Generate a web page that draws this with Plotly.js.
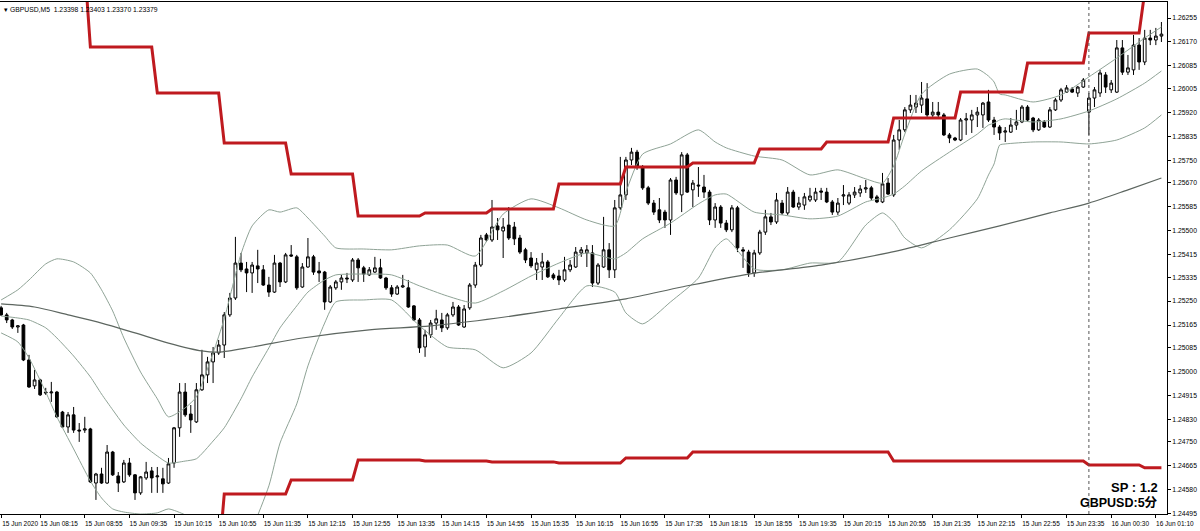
<!DOCTYPE html>
<html><head><meta charset="utf-8">
<script src="https://cdn.plot.ly/plotly-3.0.1.min.js"></script>
<style>html,body{margin:0;padding:0;background:#fff}#chart{width:1200px;height:531px}</style>
</head><body><div id="chart"></div>
<script>
// ---- Candle data (GBPUSD M5), bar index 0..208 ----
const openP=[1.25226,1.25201,1.25183,1.25158,1.25165,1.25041,1.24949,1.24970,1.24927,1.24924,
1.24927,1.24856,1.24803,1.24846,1.24792,1.24792,1.24796,1.24604,1.24636,1.24604,
1.24714,1.24629,1.24608,1.24675,1.24633,1.24569,1.24622,1.24647,1.24626,1.24619,
1.24604,1.24675,1.24800,1.24927,1.24849,1.24821,1.24935,1.24988,1.25034,1.25066,
1.25094,1.25201,1.25261,1.25385,1.25364,1.25350,1.25375,1.25361,1.25307,1.25282,
1.25385,1.25318,1.25414,1.25407,1.25300,1.25371,1.25407,1.25357,1.25353,1.25247,
1.25297,1.25318,1.25332,1.25325,1.25396,1.25368,1.25343,1.25353,1.25368,1.25332,
1.25297,1.25275,1.25300,1.25297,1.25233,1.25183,1.25087,1.25130,1.25172,1.25183,
1.25155,1.25201,1.25229,1.25158,1.25226,1.25307,1.25378,1.25485,1.25467,1.25517,
1.25499,1.25520,1.25513,1.25474,1.25432,1.25403,1.25361,1.25371,1.25389,1.25343,
1.25339,1.25325,1.25361,1.25371,1.25421,1.25421,1.25421,1.25314,1.25371,1.25432,
1.25361,1.25581,1.25627,1.25751,1.25779,1.25726,1.25652,1.25598,1.25574,1.25566,
1.25538,1.25680,1.25627,1.25769,1.25645,1.25662,1.25655,1.25637,1.25538,1.25584,
1.25527,1.25503,1.25581,1.25432,1.25424,1.25350,1.25421,1.25495,1.25549,1.25531,
1.25598,1.25563,1.25637,1.25584,1.25591,1.25609,1.25609,1.25641,1.25637,1.25602,
1.25566,1.25623,1.25598,1.25627,1.25634,1.25648,1.25652,1.25620,1.25602,1.25669,
1.25627,1.25822,1.25858,1.25929,1.25939,1.25946,1.25968,1.25911,1.25921,1.25911,
1.25840,1.25829,1.25822,1.25893,1.25893,1.25911,1.25911,1.25957,1.25893,1.25868,
1.25850,1.25850,1.25875,1.25886,1.25939,1.25900,1.25858,1.25886,1.25868,1.25929,
1.25964,1.25992,1.26003,1.25989,1.26010,1.25921,1.25971,1.25989,1.26053,1.26000,
1.25992,1.26149,1.26063,1.26071,1.26159,1.26099,1.26184,1.26177,1.26191];
const highP=[1.25233,1.25208,1.25187,1.25165,1.25169,1.25059,1.25006,1.24974,1.24942,1.24963,
1.24931,1.24860,1.24856,1.24874,1.24817,1.24839,1.24800,1.24640,1.24658,1.24739,
1.24718,1.24643,1.24686,1.24693,1.24636,1.24629,1.24679,1.24661,1.24661,1.24658,
1.24693,1.24803,1.24959,1.24959,1.24881,1.24959,1.25077,1.25052,1.25087,1.25112,
1.25211,1.25279,1.25478,1.25421,1.25389,1.25389,1.25432,1.25378,1.25336,1.25414,
1.25389,1.25421,1.25449,1.25414,1.25385,1.25474,1.25414,1.25389,1.25357,1.25307,
1.25325,1.25343,1.25350,1.25403,1.25403,1.25375,1.25371,1.25407,1.25400,1.25336,
1.25307,1.25307,1.25343,1.25325,1.25236,1.25190,1.25148,1.25183,1.25219,1.25208,
1.25208,1.25247,1.25236,1.25236,1.25314,1.25389,1.25485,1.25492,1.25609,1.25545,
1.25545,1.25584,1.25531,1.25485,1.25439,1.25424,1.25403,1.25421,1.25396,1.25350,
1.25361,1.25407,1.25396,1.25442,1.25442,1.25449,1.25449,1.25385,1.25549,1.25456,
1.25609,1.25762,1.25762,1.25794,1.25787,1.25733,1.25659,1.25609,1.25616,1.25574,
1.25687,1.25691,1.25779,1.25776,1.25680,1.25726,1.25698,1.25645,1.25598,1.25591,
1.25538,1.25591,1.25588,1.25442,1.25432,1.25432,1.25503,1.25574,1.25563,1.25634,
1.25609,1.25655,1.25645,1.25620,1.25634,1.25652,1.25652,1.25652,1.25652,1.25609,
1.25616,1.25662,1.25637,1.25655,1.25662,1.25680,1.25659,1.25627,1.25705,1.25687,
1.25840,1.25893,1.25939,1.25982,1.25982,1.26028,1.26024,1.25957,1.25957,1.25918,
1.25847,1.25833,1.25900,1.25918,1.25929,1.25939,1.25957,1.26000,1.25904,1.25875,
1.25868,1.25900,1.25929,1.25946,1.25946,1.25904,1.25900,1.25893,1.25939,1.25971,
1.26007,1.26017,1.26010,1.26014,1.26042,1.25989,1.26010,1.26071,1.26063,1.26035,
1.26177,1.26177,1.26124,1.26195,1.26184,1.26213,1.26213,1.26220,1.26241];
const lowP=[1.25197,1.25172,1.25151,1.25137,1.25037,1.24942,1.24938,1.24913,1.24917,1.24892,
1.24835,1.24800,1.24782,1.24782,1.24750,1.24782,1.24604,1.24544,1.24601,1.24601,
1.24629,1.24572,1.24604,1.24626,1.24544,1.24562,1.24615,1.24569,1.24569,1.24569,
1.24601,1.24658,1.24768,1.24839,1.24782,1.24817,1.24931,1.24959,1.24959,1.25059,
1.25048,1.25194,1.25254,1.25353,1.25282,1.25279,1.25314,1.25304,1.25265,1.25279,
1.25300,1.25314,1.25407,1.25290,1.25297,1.25368,1.25343,1.25318,1.25219,1.25243,
1.25290,1.25290,1.25314,1.25318,1.25318,1.25318,1.25339,1.25350,1.25329,1.25290,
1.25265,1.25272,1.25297,1.25226,1.25179,1.25066,1.25052,1.25119,1.25148,1.25140,
1.25148,1.25194,1.25162,1.25155,1.25219,1.25297,1.25371,1.25460,1.25460,1.25467,
1.25403,1.25467,1.25449,1.25417,1.25385,1.25368,1.25325,1.25325,1.25332,1.25325,
1.25307,1.25318,1.25353,1.25368,1.25407,1.25371,1.25300,1.25307,1.25368,1.25332,
1.25332,1.25574,1.25609,1.25733,1.25716,1.25645,1.25591,1.25556,1.25527,1.25510,
1.25485,1.25627,1.25566,1.25634,1.25584,1.25620,1.25616,1.25520,1.25510,1.25510,
1.25495,1.25495,1.25424,1.25368,1.25336,1.25336,1.25414,1.25485,1.25520,1.25524,
1.25556,1.25556,1.25581,1.25574,1.25574,1.25602,1.25602,1.25609,1.25598,1.25556,
1.25556,1.25591,1.25591,1.25616,1.25620,1.25634,1.25609,1.25598,1.25598,1.25627,
1.25620,1.25787,1.25850,1.25918,1.25918,1.25918,1.25904,1.25904,1.25900,1.25836,
1.25811,1.25818,1.25818,1.25840,1.25847,1.25868,1.25865,1.25886,1.25840,1.25822,
1.25815,1.25847,1.25858,1.25882,1.25886,1.25850,1.25854,1.25865,1.25865,1.25925,
1.25957,1.25989,1.25989,1.25975,1.26007,1.25840,1.25939,1.25975,1.25989,1.25989,
1.25989,1.26053,1.26053,1.26053,1.26071,1.26088,1.26159,1.26159,1.26170];
const closeP=[1.25201,1.25183,1.25158,1.25162,1.25041,1.24945,1.24970,1.24917,1.24924,1.24927,
1.24839,1.24803,1.24846,1.24792,1.24789,1.24796,1.24608,1.24636,1.24604,1.24714,
1.24633,1.24604,1.24675,1.24633,1.24569,1.24626,1.24643,1.24622,1.24629,1.24601,
1.24672,1.24800,1.24927,1.24846,1.24828,1.24935,1.24988,1.25034,1.25066,1.25094,
1.25201,1.25261,1.25385,1.25361,1.25350,1.25378,1.25364,1.25307,1.25282,1.25385,
1.25318,1.25414,1.25410,1.25297,1.25371,1.25407,1.25353,1.25350,1.25247,1.25300,
1.25318,1.25332,1.25329,1.25396,1.25368,1.25346,1.25361,1.25368,1.25332,1.25297,
1.25275,1.25300,1.25304,1.25229,1.25183,1.25084,1.25130,1.25172,1.25187,1.25155,
1.25201,1.25229,1.25165,1.25222,1.25307,1.25378,1.25474,1.25467,1.25513,1.25503,
1.25513,1.25474,1.25471,1.25424,1.25396,1.25375,1.25385,1.25389,1.25336,1.25332,
1.25325,1.25361,1.25378,1.25424,1.25432,1.25432,1.25314,1.25378,1.25432,1.25361,
1.25581,1.25627,1.25751,1.25779,1.25726,1.25652,1.25598,1.25566,1.25538,1.25538,
1.25680,1.25634,1.25769,1.25637,1.25669,1.25659,1.25637,1.25538,1.25584,1.25527,
1.25503,1.25581,1.25439,1.25428,1.25350,1.25421,1.25495,1.25549,1.25531,1.25609,
1.25563,1.25637,1.25584,1.25598,1.25620,1.25623,1.25637,1.25637,1.25602,1.25566,
1.25598,1.25627,1.25627,1.25637,1.25648,1.25652,1.25616,1.25602,1.25666,1.25630,
1.25822,1.25858,1.25929,1.25946,1.25953,1.25971,1.25911,1.25921,1.25911,1.25840,
1.25829,1.25822,1.25893,1.25897,1.25911,1.25921,1.25953,1.25893,1.25868,1.25847,
1.25854,1.25875,1.25886,1.25939,1.25893,1.25858,1.25893,1.25868,1.25929,1.25964,
1.26000,1.26007,1.25992,1.26010,1.26035,1.25971,1.26000,1.26060,1.26010,1.26024,
1.26149,1.26063,1.26078,1.26159,1.26099,1.26184,1.26177,1.26191,1.26198];

const bbIdx=[0,3,5,8,10,13,16,18,20,22,25,28,30,33,35,38,40,43,45,48,50,53,55,58,60,65,70,75,80,85,90,95,100,105,110,112,115,120,125,128,130,135,140,145,150,155,158,160,162,165,170,175,177,178,179,180,185,190,195,200,205,208];
const bbUpper=[1.25254,1.25290,1.25325,1.25382,1.25400,1.25389,1.25350,1.25290,1.25215,1.25119,
1.24998,1.24903,1.24839,1.24871,1.24910,1.25066,1.25187,1.25417,1.25517,1.25574,
1.25566,1.25581,1.25545,1.25481,1.25439,1.25435,1.25432,1.25446,1.25449,1.25410,
1.25559,1.25613,1.25581,1.25538,1.25517,1.25637,1.25772,1.25808,1.25858,1.25815,
1.25794,1.25765,1.25751,1.25698,1.25716,1.25684,1.25669,1.25730,1.25843,1.25985,
1.26056,1.26074,1.26049,1.26028,1.25985,1.25982,1.25957,1.25982,1.26046,1.26113,
1.26184,1.26223];
const bbMiddle=[1.25197,1.25190,1.25183,1.25155,1.25119,1.25055,1.24981,1.24920,1.24864,1.24810,
1.24746,1.24700,1.24675,1.24682,1.24690,1.24753,1.24800,1.24903,1.24981,1.25084,
1.25155,1.25233,1.25282,1.25325,1.25343,1.25346,1.25343,1.25304,1.25268,1.25243,
1.25286,1.25339,1.25385,1.25421,1.25400,1.25421,1.25471,1.25527,1.25595,1.25627,
1.25630,1.25566,1.25556,1.25542,1.25552,1.25602,1.25616,1.25630,1.25659,1.25712,
1.25779,1.25843,1.25875,1.25882,1.25893,1.25897,1.25886,1.25897,1.25925,1.25968,
1.26024,1.26067];
const bbLower=[1.25137,1.25105,1.25048,1.24927,1.24839,1.24725,1.24611,1.24551,1.24512,1.24501,
1.24494,1.24498,1.24512,1.24491,1.24469,1.24437,1.24413,1.24391,1.24445,1.24594,
1.24746,1.24885,1.25020,1.25172,1.25247,1.25254,1.25254,1.25162,1.25087,1.25077,
1.25013,1.25066,1.25190,1.25304,1.25282,1.25208,1.25169,1.25247,1.25332,1.25439,
1.25471,1.25364,1.25361,1.25385,1.25389,1.25520,1.25563,1.25531,1.25474,1.25439,
1.25503,1.25613,1.25698,1.25737,1.25804,1.25808,1.25815,1.25815,1.25808,1.25822,
1.25865,1.25911];

// ---- Long moving average ----
const maIdx=[0,6,12,18,24,30,36,39,45,54,66,77,89,100,112,122,134,147,159,170,179,188,195,202,208];
const maVals=[1.25240,1.25229,1.25201,1.25172,1.25137,1.25101,1.25073,1.25069,1.25087,1.25119,
1.25148,1.25162,1.25190,1.25222,1.25258,1.25300,1.25346,1.25378,1.25421,1.25474,
1.25517,1.25563,1.25598,1.25645,1.25687];

// ---- Hourly channel levels (red) ----
const hourStartIdx=[0,16,28,40,52,64,76,88,100,112,124,136,148,160,172,184,195,205];
const hourUpper=[1.26433,1.26152,1.25989,1.25811,1.25701,1.25552,1.25563,1.25577,1.25666,1.25726,1.25740,1.25790,1.25815,1.25900,1.25992,1.26095,1.26202,1.26347];
const hourLower=[1.24331,1.24331,1.24331,1.24565,1.24615,1.24686,1.24682,1.24679,1.24675,1.24693,1.24714,1.24714,1.24714,1.24682,1.24682,1.24682,1.24668,1.24658];

// ---- Axis labels ----
const xTickIdx=[0,7,15,23,31,39,47,55,63,71,79,87,95,103,111,119,127,135,143,151,159,167,175,183,191,199,207];
const xTickText=["15 Jun 2020","15 Jun 08:15","15 Jun 08:55","15 Jun 09:35","15 Jun 10:15","15 Jun 10:55","15 Jun 11:35","15 Jun 12:15","15 Jun 12:55","15 Jun 13:35","15 Jun 14:15","15 Jun 14:55","15 Jun 15:35","15 Jun 16:15","15 Jun 16:55","15 Jun 17:35","15 Jun 18:15","15 Jun 18:55","15 Jun 19:35","15 Jun 20:15","15 Jun 20:55","15 Jun 21:35","15 Jun 22:15","15 Jun 22:55","15 Jun 23:35","16 Jun 00:30","16 Jun 01:10"];
const yTickVals=[1.24495,1.24580,1.24665,1.24750,1.24830,1.24915,1.25000,1.25085,1.25165,1.25250,1.25335,1.25415,1.25500,1.25585,1.25670,1.25750,1.25835,1.25920,1.26005,1.26085,1.26170,1.26255];
const daySeparatorIdx=195;
const headerText="▾ GBPUSD,M5  1.23398 1.23403 1.23370 1.23379";
const noteLines=["SP : 1.2","GBPUSD:5分"];

const barIdx=openP.map((_,i)=>i);
function expandLevels(levels){
  return barIdx.map(i=>{let k=0;for(let j=0;j<hourStartIdx.length;j++){if(i>=hourStartIdx[j])k=j;}return levels[k];});
}
const bandColor='#8fa396';
const lineFont='Liberation Sans, Arial, sans-serif';

const traces=[
 {type:'scatter',mode:'lines',x:bbIdx,y:bbUpper,line:{color:bandColor,width:1,shape:'spline',smoothing:0.6},hoverinfo:'skip'},
 {type:'scatter',mode:'lines',x:bbIdx,y:bbMiddle,line:{color:bandColor,width:1,shape:'spline',smoothing:0.6},hoverinfo:'skip'},
 {type:'scatter',mode:'lines',x:bbIdx,y:bbLower,line:{color:bandColor,width:1,shape:'spline',smoothing:0.6},hoverinfo:'skip'},
 {type:'scatter',mode:'lines',x:maIdx,y:maVals,line:{color:'#5d6660',width:1.2,shape:'spline',smoothing:0.8},hoverinfo:'skip'},
 {type:'candlestick',x:barIdx,open:openP,high:highP,low:lowP,close:closeP,
  increasing:{line:{color:'#000',width:1},fillcolor:'#ffffff'},
  decreasing:{line:{color:'#000',width:1},fillcolor:'#000000'},
  whiskerwidth:0,hoverinfo:'skip'},
 {type:'scatter',mode:'lines',x:barIdx,y:expandLevels(hourUpper),line:{color:'#bf1a1f',width:3},hoverinfo:'skip'},
 {type:'scatter',mode:'lines',x:barIdx,y:expandLevels(hourLower),line:{color:'#bf1a1f',width:3},hoverinfo:'skip'}
];

const layout={
 width:1200,height:531,margin:{l:0,r:33,t:2,b:17},
 paper_bgcolor:'#fff',plot_bgcolor:'#fff',showlegend:false,hovermode:false,
 xaxis:{range:[-0.2,209.0],showgrid:false,zeroline:false,showline:true,linecolor:'#000',linewidth:1,mirror:true,
   ticks:'outside',ticklen:3,tickcolor:'#000',tickvals:xTickIdx,ticktext:xTickText,ticklabelshift:19,tickangle:0,
   tickfont:{family:lineFont,size:6.5,color:'#000'},rangeslider:{visible:false},fixedrange:true,automargin:false},
 yaxis:{range:[1.24494,1.26312],side:'right',showgrid:false,zeroline:false,showline:true,linecolor:'#000',linewidth:1,mirror:true,
   ticks:'outside',ticklen:3,tickcolor:'#000',tickvals:yTickVals,ticktext:yTickVals.map(v=>v.toFixed(5)),
   tickfont:{family:lineFont,size:6.8,color:'#000'},fixedrange:true,automargin:false},
 shapes:[{type:'line',xref:'x',yref:'paper',x0:daySeparatorIdx,x1:daySeparatorIdx,y0:0,y1:1,line:{color:'#555',width:1,dash:'3px,3px'}}],
 annotations:[
  {xref:'paper',yref:'paper',x:0.002,y:0.997,xanchor:'left',yanchor:'top',text:headerText,showarrow:false,font:{family:lineFont,size:6.8,color:'#000'}},
  {xref:'paper',yref:'paper',x:0.9942,y:0.052,xanchor:'right',yanchor:'middle',text:'<b>'+noteLines[0]+'</b>',showarrow:false,font:{family:'Liberation Sans, Noto Sans CJK JP, sans-serif',size:13,color:'#000'}},
  {xref:'paper',yref:'paper',x:0.9942,y:0.022,xanchor:'right',yanchor:'middle',text:'<b>'+noteLines[1]+'</b>',showarrow:false,font:{family:'Liberation Sans, Noto Sans CJK JP, sans-serif',size:12.5,color:'#000'}}
 ]
};
Plotly.newPlot('chart',traces,layout,{staticPlot:true,displayModeBar:false});
</script></body></html>
